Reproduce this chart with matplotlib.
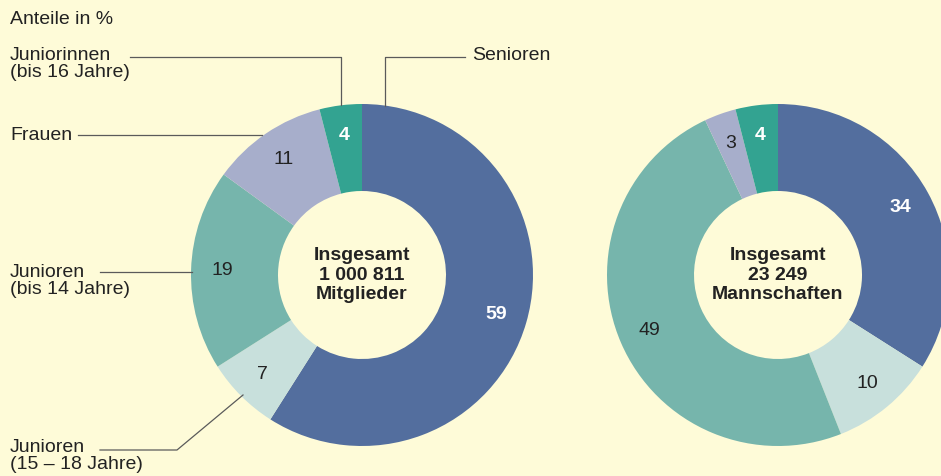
import matplotlib

matplotlib.use("Agg")

import matplotlib.pyplot as plt
import numpy as np

# shares in percent, clockwise from 12 o'clock
groups = ["Senioren", "Junioren (15 – 18 Jahre)", "Junioren (bis 14 Jahre)",
          "Frauen", "Juniorinnen (bis 16 Jahre)"]
members = [59, 7, 19, 11, 4]
teams = [34, 10, 49, 3, 4]
totals = ["Insgesamt\n1 000 811\nMitglieder", "Insgesamt\n23 249\nMannschaften"]

colors = ["#536e9e", "#c8e0dc", "#76b5ac", "#a7aecb", "#33a391"]
white_labels = [True, False, False, False, True]
bg = "#fefbd8"
ink = "#222222"
line_c = "#5a5a5a"

W, H = 941, 476
plt.rcParams["font.family"] = ["Liberation Sans", "DejaVu Sans"]

fig = plt.figure(figsize=(W / 100, H / 100), dpi=100, facecolor=bg)
ax = fig.add_axes([0, 0, 1, 1])
ax.set_facecolor(bg)

R, R_in = 171, 84
fs = 14


def donut(values, cx, cy, total):
    wedges, _, autotexts = ax.pie(
        values, colors=colors, startangle=90, counterclock=False,
        center=(cx, H - cy), radius=R, frame=True,
        wedgeprops=dict(width=R - R_in, linewidth=0),
        autopct="%.0f", pctdistance=0.82,
        textprops=dict(fontsize=fs, color=ink),
    )
    for t, w in zip(autotexts, white_labels):
        if w:
            t.set_color("white")
            t.set_fontweight("bold")
    ax.text(cx, H - cy, total, ha="center", va="center", fontsize=fs,
            fontweight="bold", color=ink, linespacing=1.2)


donut(members, 362, 275, totals[0])
donut(teams, 778, 275, totals[1])

ax.text(10, H - 20, "Anteile in %", fontsize=fs, color=ink, va="center")


def leader(label, tx, ty, pts, ha="left"):
    ax.text(tx, H - ty, label, fontsize=fs, color=ink, va="center", ha=ha,
            linespacing=0.95)
    xs, ys = zip(*pts)
    ax.plot(xs, [H - y for y in ys], color=line_c, lw=0.9)


leader("Juniorinnen\n(bis 16 Jahre)", 10, 64, [(130, 57), (341, 57), (341, 105)])
leader("Senioren", 472, 55, [(465, 57), (385, 57), (385, 106)])
leader("Frauen", 10, 135, [(78, 135), (262, 135)])
leader("Junioren\n(bis 14 Jahre)", 10, 281, [(100, 272), (192, 272)])
leader("Junioren\n(15 – 18 Jahre)", 10, 456, [(100, 450), (177, 450), (243, 395)])

ax.set_xlim(0, W)
ax.set_ylim(0, H)
ax.set_aspect("auto")
ax.axis("off")

fig.savefig("out.png", dpi=100, facecolor=bg)
